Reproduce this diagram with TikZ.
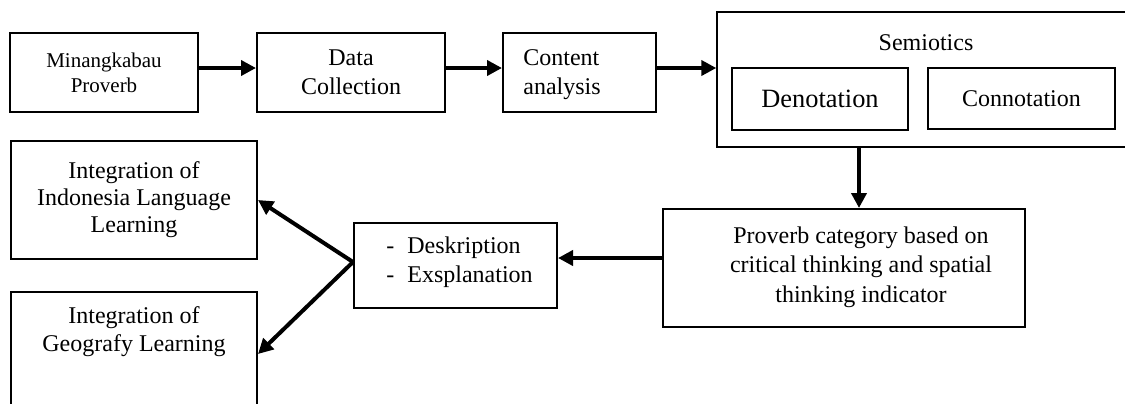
\documentclass[tikz,border=0pt]{standalone}
\usepackage{fontspec}
\setmainfont{Liberation Serif}
\usetikzlibrary{arrows.meta}
\tikzset{
  box/.style={draw, line width=1pt, inner sep=0pt, align=center, font=\fontsize{12}{14.5}\selectfont},
  arr/.style={line width=2pt, -{Triangle[length=7.5pt,width=7.5pt]}},
  lbl/.style={inner sep=0pt, align=center, font=\fontsize{12}{14.5}\selectfont},
}
\begin{document}
\begin{tikzpicture}[x=0.5pt,y=-0.5pt]
\useasboundingbox (0,0) rectangle (1125,403);
\clip (0,0) rectangle (1125,403);

% top row
\node[box, minimum width=94pt, minimum height=39.5pt, font=\fontsize{10.5}{12.5}\selectfont] (b1) at (104,72.5) {Minangkabau\\Proverb};
\node[box, minimum width=94pt, minimum height=39.5pt] (b2) at (351,72.5) {Data\\Collection};
\node[box, minimum width=76.5pt, minimum height=39.5pt] (b3) at (579.5,72.5) {};
\node[lbl, anchor=west, align=left] (b3t) at (523,74.5) {Content\\analysis};

% semiotics frame with its two parts
\node[box, line width=0.7pt, minimum width=211.5pt, minimum height=67.5pt] (sem) at (928.5,79.5) {};
\node[lbl] (semt) at (926,43) {Semiotics};
\node[box, minimum width=88pt, minimum height=31pt, font=\fontsize{13.2}{15}\selectfont] (den) at (820,99) {Denotation};
\node[box, minimum width=93.5pt, minimum height=30.5pt] (con) at (1021.5,98.5) {Connotation};

% category box
\node[box, minimum width=181pt, minimum height=59pt] (prov) at (844,268) {};
\node[lbl, font=\fontsize{12}{14.75}\selectfont] (provt) at (861,267) {Proverb category based on\\critical thinking and spatial\\thinking indicator};

% description box
\node[box, minimum width=101.5pt, minimum height=42.5pt] (desc) at (455.5,265.5) {};
\node[lbl, anchor=west, align=left] (desct) at (386,262.5) {\makebox[10.5pt][l]{-}Deskription\\\makebox[10.5pt][l]{-}Exsplanation};

% integration boxes
\node[box, minimum width=123pt, minimum height=59pt, font=\fontsize{12}{13.5}\selectfont] (il) at (134,200) {Integration of\\Indonesia Language\\Learning};
\node[box, minimum width=123pt, minimum height=62pt] (geo) at (134,354) {};
\node[lbl, font=\fontsize{12}{14}\selectfont] (geot) at (134,332) {Integration of\\Geografy Learning};

% connectors
\draw[arr] ([yshift=2.25pt]b1.east) -- ([yshift=2.25pt]b1.east -| b2.west);
\draw[arr] ([yshift=2.25pt]b2.east) -- ([yshift=2.25pt]b2.east -| b3.west);
\draw[arr] ([yshift=2.25pt]b3.east) -- ([yshift=2.25pt]b3.east -| sem.west);
\draw[arr] ([xshift=-1pt]sem.south -| provt) -- ([xshift=-1pt]prov.north -| provt);
\draw[arr] ([yshift=5pt]prov.west) -- ([yshift=5pt]prov.west -| desc.east);
\draw[arr] ([yshift=1.75pt]desc.west) -- (il.east);
\draw[arr] ([yshift=1.75pt]desc.west) -- (geo.east);
\end{tikzpicture}
\end{document}
